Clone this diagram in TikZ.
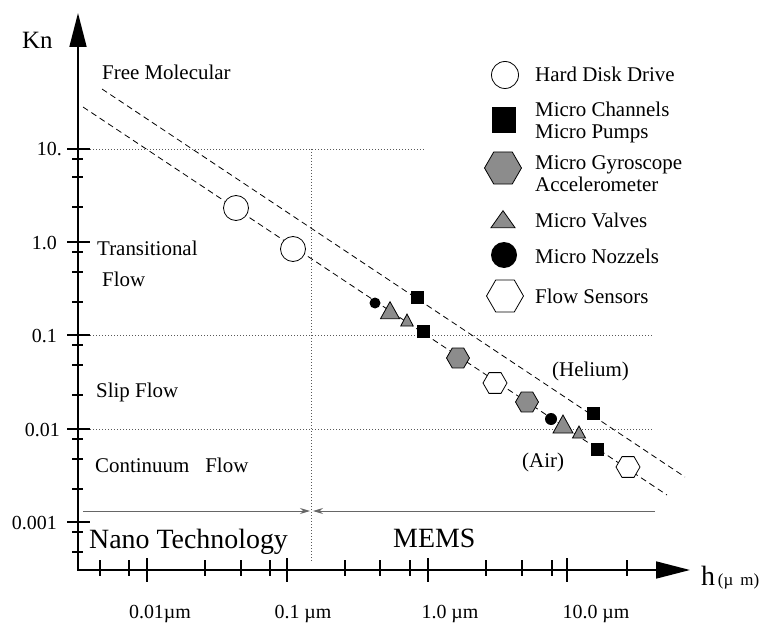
\documentclass[tikz,border=0pt]{standalone}
\usepackage{fontspec}
\setmainfont{Liberation Serif}
\usetikzlibrary{shapes.geometric,arrows.meta}
\newcommand\setsz[1]{\fontsize{#1}{#1}\selectfont}
\begin{document}
\begin{tikzpicture}[x=1bp,y=-1bp,
  axisline/.style={line width=1.7bp,-{Triangle[length=34bp,width=17bp]}},
  tickln/.style={line width=1.1bp},
  gridln/.style={line width=0.7bp,black!65,dash pattern=on 0.9bp off 2.1bp},
  gasline/.style={line width=0.8bp,dash pattern=on 6bp off 4bp},
  rangeln/.style={line width=1bp,black!60},
  rangetip/.style={-{Stealth[length=10bp,width=6bp]}},
  lbl/.style={font=\setsz{21},inner sep=0,anchor=base west},
  biglbl/.style={font=\setsz{28},inner sep=0,anchor=base west},
  ticklbl/.style={font=\setsz{20},inner sep=0,anchor=base east},
  xlbl/.style={font=\setsz{20},inner sep=0,anchor=base},
  mk/.style={inner sep=0,outer sep=0,line width=0.8bp},
  opencirc/.style={mk,circle,draw,fill=white,minimum size=#1},
  dotmark/.style={mk,circle,fill=black,minimum size=#1},
  sqmark/.style={mk,rectangle,fill=black,minimum size=#1},
  hexgray/.style={mk,regular polygon,regular polygon sides=6,draw,fill=black!45,minimum size=#1},
  hexopen/.style={mk,regular polygon,regular polygon sides=6,draw,fill=white,minimum size=#1},
  pics/tri/.style 2 args={code={%
    \filldraw[line width=0.8bp,fill=black!45] (-#1/2,#2/3) -- (#1/2,#2/3) -- (0,-2*#2/3) -- cycle;}},
]
\useasboundingbox (0,0) rectangle (766,624);

% grid lines
\draw[gridln] (90,149) -- (425,149);
\draw[gridln] (90,335) -- (653,335);
\draw[gridln] (90,429) -- (653,429);
\draw[gridln] (311,149) -- (311,563);

% mean free path lines for helium and air
\coordinate (heA) at (102,89);
\coordinate (heB) at (685,477);
\coordinate (airA) at (83,107);
\coordinate (airB) at (667,495);
\draw[gasline] (heA) -- (heB);
\draw[gasline] (airA) -- (airB);

% axes
\coordinate (O) at (78,570);
\coordinate (ytip) at (78,13);
\coordinate (xtip) at (690,570);
\draw[axisline] (O) -- (ytip);
\draw[axisline] ([xshift=-0.85bp]O) -- (xtip);

% axis ticks
\foreach \yy in {149,242,335,429,522} \draw[tickln] (67,\yy) -- (90,\yy);
\foreach \yy in {159,177,207,252,272,302,345,365,395,439,459,489,532,552}
  \draw[tickln] (72,\yy) -- (83,\yy);
\foreach \xx in {147,287,428,567} \draw[tickln] (\xx,558) -- (\xx,582);
\foreach \xx in {100,129,205,241,270,345,380,410,486,522,552,627}
  \draw[tickln] (\xx,560) -- (\xx,576);

% axis labels
\node[font=\setsz{25},inner sep=0,anchor=base west] (kn) at (22,49) {Kn};
\node[ticklbl] (t10) at (62,156) {10.};
\node[ticklbl] (t1) at (57,249) {1.0};
\node[ticklbl] (t01) at (57,342) {0.1};
\node[ticklbl] (t001) at (60,436) {0.01};
\node[ticklbl] (t0001) at (57,529) {0.001};
\node[xlbl] (h001) at (160,618) {0.01µm};
\node[xlbl] (h01) at (303,618) {0.1 µm};
\node[xlbl] (h1) at (450,618) {1.0 µm};
\node[xlbl] (h10) at (596,618) {10.0 µm};
\node[inner sep=0,anchor=base west] (hlbl) at (701,585)
  {\setsz{28}h\setsz{17}\,(µ\hspace{7bp}m)};

% flow regimes
\node[lbl] (freemol) at (102,80) {Free Molecular};
\node[lbl] (trans) at (97,255) {Transitional};
\node[lbl] (transflow) at (102,286) {Flow};
\node[lbl] (slip) at (96,397) {Slip Flow};
\node[lbl] (cont) at (95,472) {Continuum\hspace{16bp}Flow};
\node[lbl] (helium) at (552,376) {(Helium)};
\node[lbl] (air) at (522,467) {(Air)};

% nano / MEMS ranges
\coordinate (nanoL) at (83,511);
\coordinate (nanoR) at (310,511);
\coordinate (memsL) at (313,511);
\coordinate (memsR) at (655,511);
\draw[rangeln,rangetip] (nanoL) -- (nanoR);
\draw[rangeln,rangetip] (memsR) -- (memsL);
\node[biglbl] (nano) at (89,548) {Nano Technology};
\node[biglbl] (mems) at (393,547) {MEMS};

% data points
\node[opencirc=25bp] (hdd1) at (236,208) {};
\node[opencirc=25bp] (hdd2) at (293,249) {};
\node[dotmark=11bp] (noz1) at (375,303) {};
\pic (valve1) at (390,313) {tri={19}{17}};
\pic (valve2) at (407,322) {tri={12.5}{12}};
\node[sqmark=13bp] (chan1) at (417,297) {};
\node[sqmark=13bp] (chan2) at (423,331) {};
\node[hexgray=23bp] (gyro1) at (458,358) {};
\node[hexopen=24bp] (sens1) at (495,383) {};
\node[hexgray=23bp] (gyro2) at (527,402) {};
\node[dotmark=12bp] (noz2) at (551,419) {};
\pic (valve3) at (563,427) {tri={20}{18}};
\pic (valve4) at (579,434) {tri={13}{12}};
\node[sqmark=13bp] (chan3) at (593,413) {};
\node[sqmark=13bp] (chan4) at (597,449) {};
\node[hexopen=24bp] (sens2) at (628,467) {};

% legend
\node[opencirc=27bp] (leg1) at (505,75) {};
\node[lbl] (leg1t) at (535,82) {Hard Disk Drive};
\node[mk,rectangle,fill=black,minimum width=24bp,minimum height=26bp] (leg2) at (504,120) {};
\node[lbl] (leg2t) at (535,117) {Micro Channels};
\node[lbl] (leg2u) at (535,139) {Micro Pumps};
\node[hexgray=37bp] (leg3) at (503,168) {};
\node[lbl] (leg3t) at (535,170) {Micro Gyroscope};
\node[lbl] (leg3u) at (535,192) {Accelerometer};
\pic (leg4) at (503,222) {tri={24}{17}};
\node[lbl] (leg4t) at (535,228) {Micro Valves};
\node[dotmark=26bp] (leg5) at (504,255) {};
\node[lbl] (leg5t) at (535,263) {Micro Nozzels};
\node[hexopen=37bp] (leg6) at (505,296) {};
\node[lbl] (leg6t) at (535,303) {Flow Sensors};
\end{tikzpicture}
\end{document}
